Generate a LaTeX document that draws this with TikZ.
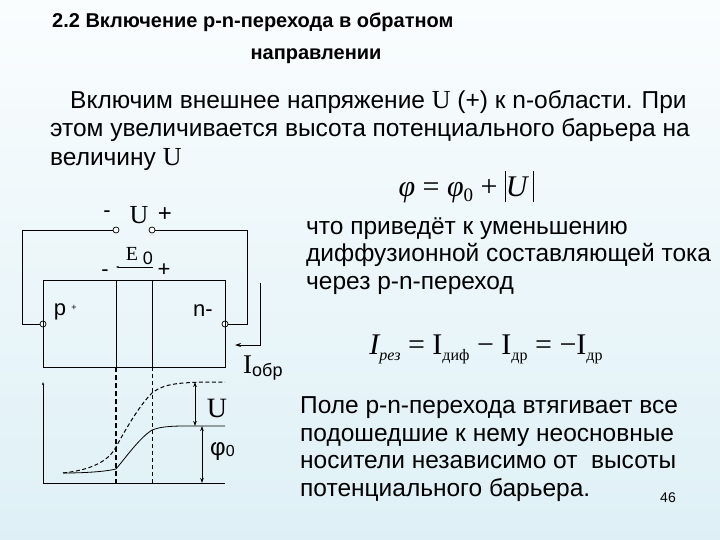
\documentclass[tikz,border=0pt]{standalone}
\usepackage{fontspec}
\setmainfont{Liberation Sans}
\newfontfamily\tnr{Liberation Serif}
\usetikzlibrary{arrows.meta}
\definecolor{bgtop}{RGB}{250,253,254}
\definecolor{bgbot}{RGB}{222,240,246}
\newcommand{\subtx}[1]{\raisebox{-6pt}{\fontsize{16}{17}\selectfont #1}}
\begin{document}
\begin{tikzpicture}[x=1pt,y=-1pt,
 ln/.style={line width=0.8pt},
 term/.style={circle,draw,fill=white,inner sep=0pt,minimum size=6pt,line width=0.7pt},
 txt/.style={anchor=west,inner sep=0pt,font=\fontsize{24.5}{27.5}\selectfont},
 lbl/.style={inner sep=0pt,font=\fontsize{17}{20}\selectfont}]
\shade[top color=bgtop,bottom color=bgbot] (0,0) rectangle (720,540);
\useasboundingbox (0,0) rectangle (720,540);
% title
\node[txt,font=\bfseries\fontsize{20}{23}\selectfont] (t1) at (52,22) {2.2 Включение p-n-перехода в обратном};
\node[inner sep=0pt,font=\bfseries\fontsize{20}{23}\selectfont] (t2) at (316,56) {направлении};
\node[txt] (b1) at (70,102) {Включим внешнее напряжение {\tnr\fontsize{26}{28}\selectfont U} (+) к n-области. При};
\node[txt] (b2) at (50,130) {этом увеличивается высота потенциального барьера на};
\node[txt] (b3) at (50,160) {величину {\tnr\fontsize{26}{28}\selectfont U}};
\node[inner sep=0pt,font=\tnr\fontsize{30}{32}\selectfont] (f1) at (466,187) {{\itshape φ} = {\itshape φ}\raisebox{-5pt}{\fontsize{19}{20}\selectfont 0} + \rule[-6pt]{0.8pt}{31pt}{\itshape U}\,\rule[-6pt]{0.8pt}{31pt}};
\node[txt,align=left] (r1) at (306,256) {что приведёт к уменьшению\\диффузионной составляющей тока\\через p-n-переход};
\node[inner sep=0pt,font=\tnr\fontsize{30}{32}\selectfont] (f2) at (486,349) {{\itshape I}\subtx{\itshape рез} = I\subtx{диф} − I\subtx{др} = −I\subtx{др}};
\node[txt,align=left] (r2) at (300,449) {Поле p-n-перехода втягивает все\\подошедшие к нему неосновные\\носители независимо от\ \ высоты\\потенциального барьера.};
\node[inner sep=0pt,font=\fontsize{14}{16}\selectfont] (pg) at (668,498) {46};
% circuit
\node[term] (ta) at (116,230) {};
\node[term] (tb) at (152,230) {};
\node[term] (tp) at (43,324) {};
\node[term] (tn) at (225,324) {};
\draw[ln] (ta.west) -| (22,324) -- (tp.west);
\draw[ln] (tb.east) -| (247,324) -- (tn.east);
\draw[ln] (43,280) rectangle (225,367);
\draw[ln] (116,280) -- (116,367);
\draw[ln] (152.7,280) -- (152.7,367);
\node[lbl,font=\fontsize{22}{24}\selectfont] (m1) at (107,214) {-};
\node[lbl,font=\tnr\fontsize{26}{28}\selectfont] (uu) at (139,215) {U};
\node[lbl,font=\fontsize{24}{26}\selectfont] (p1) at (165,215) {+};
\node[lbl,font=\tnr\fontsize{20}{22}\selectfont] (e0) at (132,254) {E};
\node[lbl,font=\fontsize{18}{20}\selectfont] (e0s) at (148,258) {0};
\coordinate (ea) at (153,267);
\coordinate (eb) at (116,267);
\draw[line width=0.5pt,-{Stealth[length=3pt]}] (ea) -- (eb);
\node[lbl,font=\fontsize{22}{24}\selectfont] (m2) at (105,273) {-};
\node[lbl,font=\fontsize{22}{24}\selectfont] (p2) at (164,270) {+};
\node[lbl,font=\fontsize{22}{24}\selectfont] (pp) at (60,312) {p};
\node[lbl,font=\fontsize{9}{10}\selectfont] (pps) at (74,308) {+};
\node[lbl,font=\fontsize{22}{24}\selectfont] (nn) at (203,311) {n-};
\coordinate (i1) at (260,283);
\coordinate (i2) at (235,345);
\draw[line width=1pt,-{Stealth[length=6pt,width=4pt]}] (i1) |- (i2);
\node[anchor=west,inner sep=0pt] (io) at (243,368) {{\tnr\fontsize{27}{28}\selectfont I}\raisebox{-3pt}{\fontsize{18}{20}\selectfont обр}};
% graph
\coordinate (o) at (43,483);
\coordinate (yt) at (43,382);
\coordinate (xr) at (225,483);
\draw[ln,-{Stealth[length=3pt,width=2pt]}] (o) -- (yt);
\draw[ln] (o) -- (xr);
\draw[line width=1.3pt,dash pattern=on 5pt off 3pt] (116,367) -- (116,483);
\draw[line width=0.8pt,dash pattern=on 4pt off 3pt] (152.7,367) -- (152.7,483);
\draw[ln] (63,473) .. controls (90,473) and (108,471) .. (116,469) .. controls (130,452) and (140,438) .. (152,430) .. controls (165,425) and (180,426) .. (225,426);
\draw[line width=1pt,dash pattern=on 4pt off 2.5pt] (63,473) .. controls (90,470) and (108,462) .. (116,447) .. controls (128,425) and (140,405) .. (152,393) .. controls (165,383) and (180,382) .. (225,382);
\coordinate (ua) at (195,382);
\coordinate (ub) at (195,426);
\coordinate (pa) at (202,426);
\coordinate (pb) at (202,483);
\draw[line width=0.8pt,{Stealth[length=5pt,width=3.5pt]}-{Stealth[length=5pt,width=3.5pt]}] (ua) -- (ub);
\draw[line width=0.8pt,{Stealth[length=5pt,width=3.5pt]}-{Stealth[length=5pt,width=3.5pt]}] (pa) -- (pb);
\node[lbl,font=\tnr\fontsize{28}{30}\selectfont] (ul) at (217,408) {U};
\node[anchor=west,inner sep=0pt] (ph) at (210,452) {{\fontsize{24}{26}\selectfont φ}\raisebox{-1pt}{\fontsize{16}{18}\selectfont 0}};
\end{tikzpicture}
\end{document}
